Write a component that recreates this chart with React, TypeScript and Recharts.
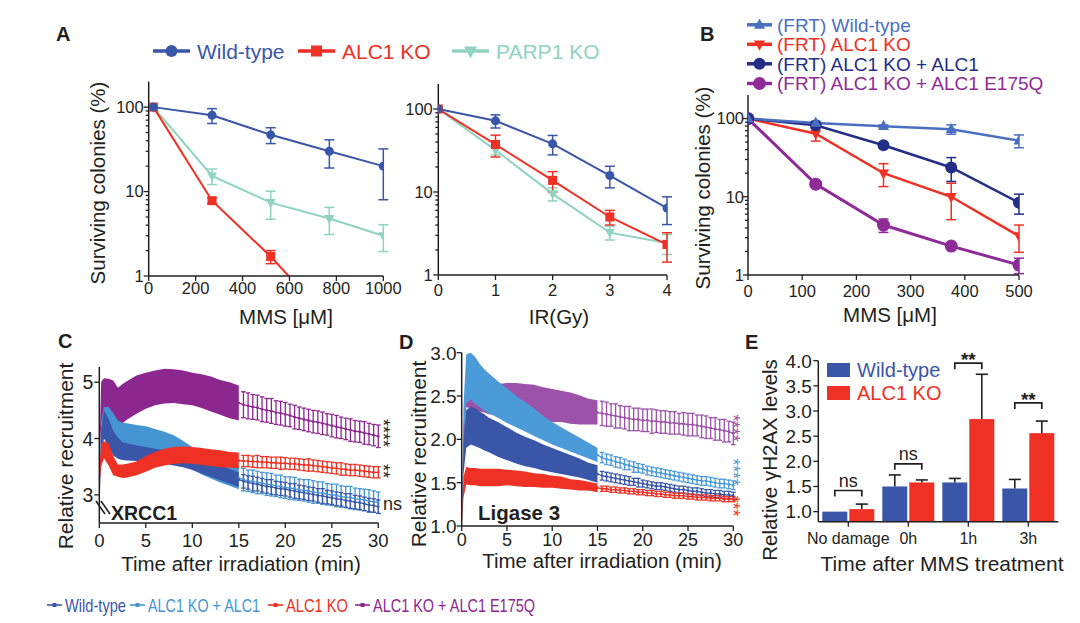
import React from 'react';
import { LineChart, Line, XAxis, YAxis, ErrorBar, ComposedChart, Area, BarChart, Bar } from 'recharts';

const W = 1080;
const H = 623;
const FONT = '"Liberation Sans", Arial, Helvetica, sans-serif';
const INK = '#231f20';
const YW = 40;
const XH = 30;

// ---------- A: MMS survival ----------
const mmsDose = [20, 270, 520, 770, 1000];
const mmsWt = [100, 80, 47, 30, 20];
const mmsWtErr = [0, 16, 10, 11, 12];
const mmsKo = [100, 7.8, 1.7, 0.3];
const mmsKoErr = [0, 0.6, 0.3, 0];
const mmsParp = [100, 15.3, 7.4, 4.8, 3.0];
const mmsParpErr = [0, 3.2, 2.7, 1.7, 1.05];

// ---------- A: IR survival ----------
const irDose = [0, 1, 2, 3, 4];
const irWt = [100, 72, 38, 15.8, 6.4];
const irWtErr = [0, 13, 10, 4.6, 2.35];
const irKo = [100, 37.4, 13.8, 5.0, 2.33];
const irKoErr = [0, 11, 3.8, 1.0, 0.9];
const irParp = [100, 32, 9.5, 3.24, 2.42];
const irParpErr = [0, 4, 1.7, 0.6, 0.65];

// ---------- B: FRT lines, MMS ----------
const frtDose = [0, 125, 250, 375, 500];
const frtWt = [100, 88, 80, 73, 52];
const frtWtErr = [0, 4, 3, 10, 9.7];
const frtKo = [100, 64, 20, 10, 3.15];
const frtKoErr = [0, 12.5, 6.5, 4.9, 1.2];
const frtRescue = [100, 82, 45.6, 23.7, 8.4];
const frtRescueErr = [0, 3, 3, 8, 2.4];
const frtE175Q = [100, 14.5, 4.35, 2.34, 1.34];
const frtE175QErr = [0, 1, 0.85, 0.2, 0.3];

// ---------- C / D: recruitment kinetics ----------
const tMin = [0, 0.2, 0.5, 1, 1.5, 2, 2.5, 3, 4, 5, 6, 7, 8, 9, 10, 11, 12, 13, 14, 15,
  15.5, 16, 16.5, 17, 17.5, 18, 18.5, 19, 19.5, 20, 20.5, 21, 21.5, 22, 22.5, 23, 23.5, 24, 24.5, 25,
  25.5, 26, 26.5, 27, 27.5, 28, 28.5, 29, 29.5, 30];

const xrccE175Q = [3.5, 4.65, 4.7, 4.7, 4.68, 4.6, 4.62, 4.68, 4.78, 4.85, 4.9, 4.93, 4.93, 4.91, 4.88, 4.84, 4.79, 4.73, 4.68, 4.63,
  4.6, 4.58, 4.56, 4.55, 4.52, 4.5, 4.49, 4.46, 4.45, 4.43, 4.41, 4.38, 4.36, 4.34, 4.32, 4.3, 4.29, 4.27, 4.25, 4.23,
  4.21, 4.19, 4.17, 4.15, 4.13, 4.12, 4.1, 4.08, 4.06, 4.04];
const xrccE175QErr = [0.2, 0.36, 0.37, 0.36, 0.35, 0.3, 0.35, 0.34, 0.34, 0.32, 0.31, 0.31, 0.3, 0.3, 0.29, 0.3, 0.31, 0.31, 0.32, 0.31,
  0.23, 0.23, 0.22, 0.22, 0.22, 0.21, 0.22, 0.21, 0.21, 0.21, 0.2, 0.21, 0.2, 0.2, 0.2, 0.2, 0.2, 0.2, 0.19, 0.2,
  0.2, 0.19, 0.19, 0.2, 0.19, 0.19, 0.2, 0.19, 0.19, 0.2];
const xrccRescue = [3.0, 4.1, 4.38, 4.38, 4.27, 4.15, 4.1, 4.08, 4.05, 4.02, 3.97, 3.92, 3.86, 3.76, 3.65, 3.56, 3.49, 3.42, 3.36, 3.3,
  3.27, 3.25, 3.24, 3.22, 3.21, 3.19, 3.18, 3.16, 3.15, 3.13, 3.12, 3.11, 3.09, 3.08, 3.07, 3.05, 3.04, 3.03, 3.01, 3.0,
  2.99, 2.97, 2.96, 2.95, 2.93, 2.92, 2.91, 2.89, 2.88, 2.86];
const xrccRescueErr = [0.1, 0.2, 0.18, 0.18, 0.18, 0.17, 0.18, 0.19, 0.19, 0.2, 0.2, 0.2, 0.2, 0.2, 0.2, 0.2, 0.2, 0.2, 0.2, 0.2,
  0.2, 0.19, 0.2, 0.2, 0.19, 0.2, 0.2, 0.19, 0.2, 0.19, 0.2, 0.2, 0.19, 0.19, 0.2, 0.2, 0.19, 0.2, 0.19, 0.19,
  0.2, 0.19, 0.19, 0.2, 0.19, 0.19, 0.19, 0.2, 0.19, 0.19];
const xrccWt = [2.75, 3.9, 4.25, 4.1, 3.92, 3.83, 3.78, 3.76, 3.74, 3.72, 3.7, 3.67, 3.64, 3.61, 3.57, 3.51, 3.45, 3.39, 3.33, 3.27,
  3.24, 3.22, 3.2, 3.19, 3.17, 3.15, 3.14, 3.12, 3.11, 3.1, 3.08, 3.07, 3.05, 3.04, 3.02, 3.01, 2.99, 2.98, 2.96, 2.95,
  2.93, 2.92, 2.9, 2.89, 2.87, 2.86, 2.84, 2.82, 2.81, 2.79];
const xrccWtErr = [0.05, 0.25, 0.25, 0.25, 0.22, 0.19, 0.16, 0.15, 0.14, 0.13, 0.12, 0.12, 0.12, 0.12, 0.13, 0.13, 0.13, 0.13, 0.13, 0.13,
  0.12, 0.12, 0.13, 0.12, 0.12, 0.12, 0.13, 0.12, 0.12, 0.12, 0.12, 0.13, 0.12, 0.12, 0.12, 0.12, 0.12, 0.13, 0.12, 0.12,
  0.12, 0.12, 0.12, 0.13, 0.12, 0.12, 0.12, 0.12, 0.12, 0.12];
const xrccKo = [3.3, 3.7, 3.8, 3.72, 3.52, 3.43, 3.42, 3.43, 3.47, 3.55, 3.62, 3.67, 3.7, 3.71, 3.7, 3.68, 3.66, 3.64, 3.62, 3.61,
  3.6, 3.6, 3.59, 3.59, 3.58, 3.58, 3.57, 3.57, 3.56, 3.56, 3.55, 3.55, 3.54, 3.53, 3.53, 3.52, 3.51, 3.5, 3.49, 3.48,
  3.47, 3.46, 3.45, 3.44, 3.44, 3.43, 3.42, 3.41, 3.4, 3.4];
const xrccKoErr = [0.15, 0.2, 0.15, 0.2, 0.17, 0.11, 0.12, 0.12, 0.12, 0.14, 0.14, 0.15, 0.15, 0.15, 0.15, 0.15, 0.15, 0.15, 0.14, 0.14,
  0.1, 0.1, 0.1, 0.11, 0.1, 0.1, 0.1, 0.1, 0.11, 0.1, 0.1, 0.1, 0.1, 0.1, 0.11, 0.1, 0.1, 0.1, 0.1, 0.1,
  0.1, 0.11, 0.1, 0.1, 0.1, 0.1, 0.1, 0.1, 0.1, 0.1];

const ligE175Q = [1.0, 2.0, 2.47, 2.48, 2.48, 2.47, 2.47, 2.46, 2.46, 2.45, 2.44, 2.43, 2.42, 2.4, 2.39, 2.38, 2.36, 2.34, 2.32, 2.31,
  2.3, 2.29, 2.28, 2.27, 2.26, 2.25, 2.24, 2.23, 2.23, 2.22, 2.22, 2.21, 2.21, 2.2, 2.2, 2.19, 2.19, 2.18, 2.18, 2.17,
  2.17, 2.16, 2.15, 2.14, 2.13, 2.12, 2.11, 2.1, 2.09, 2.07];
const ligE175QErr = [0.02, 0.15, 0.1, 0.12, 0.14, 0.15, 0.16, 0.17, 0.18, 0.2, 0.21, 0.21, 0.21, 0.2, 0.19, 0.18, 0.18, 0.17, 0.15, 0.14,
  0.14, 0.14, 0.13, 0.14, 0.13, 0.13, 0.14, 0.13, 0.13, 0.13, 0.13, 0.14, 0.13, 0.13, 0.13, 0.13, 0.13, 0.12, 0.13, 0.13,
  0.13, 0.12, 0.13, 0.13, 0.12, 0.13, 0.12, 0.13, 0.12, 0.13];
const ligRescue = [1.0, 2.2, 2.7, 2.73, 2.68, 2.62, 2.57, 2.53, 2.46, 2.39, 2.32, 2.26, 2.2, 2.13, 2.07, 2.02, 1.97, 1.92, 1.87, 1.82,
  1.79, 1.77, 1.76, 1.74, 1.73, 1.71, 1.7, 1.68, 1.67, 1.66, 1.64, 1.63, 1.62, 1.61, 1.6, 1.59, 1.58, 1.57, 1.56, 1.55,
  1.54, 1.53, 1.52, 1.52, 1.51, 1.5, 1.49, 1.49, 1.48, 1.47];
const ligRescueErr = [0.02, 0.2, 0.28, 0.27, 0.27, 0.25, 0.24, 0.23, 0.21, 0.2, 0.18, 0.17, 0.16, 0.14, 0.13, 0.12, 0.11, 0.1, 0.09, 0.08,
  0.06, 0.06, 0.06, 0.06, 0.06, 0.06, 0.05, 0.06, 0.05, 0.05, 0.05, 0.05, 0.05, 0.05, 0.05, 0.05, 0.05, 0.05, 0.05, 0.05,
  0.05, 0.05, 0.05, 0.05, 0.05, 0.05, 0.05, 0.05, 0.05, 0.05];
const ligWt = [1.0, 1.8, 2.12, 2.16, 2.14, 2.11, 2.08, 2.05, 2.0, 1.95, 1.9, 1.86, 1.83, 1.79, 1.76, 1.73, 1.7, 1.67, 1.63, 1.6,
  1.58, 1.57, 1.56, 1.55, 1.54, 1.53, 1.52, 1.51, 1.5, 1.49, 1.48, 1.47, 1.46, 1.46, 1.45, 1.44, 1.43, 1.42, 1.42, 1.41,
  1.4, 1.4, 1.39, 1.38, 1.38, 1.37, 1.37, 1.36, 1.36, 1.35];
const ligWtErr = [0.02, 0.2, 0.22, 0.22, 0.22, 0.21, 0.21, 0.2, 0.2, 0.19, 0.18, 0.17, 0.16, 0.15, 0.14, 0.13, 0.12, 0.11, 0.1, 0.1,
  0.05, 0.05, 0.05, 0.05, 0.05, 0.05, 0.05, 0.04, 0.05, 0.04, 0.04, 0.04, 0.04, 0.04, 0.04, 0.04, 0.04, 0.04, 0.04, 0.04,
  0.04, 0.04, 0.04, 0.04, 0.04, 0.04, 0.04, 0.04, 0.04, 0.04];
const ligKo = [1.0, 1.45, 1.58, 1.57, 1.57, 1.56, 1.56, 1.56, 1.56, 1.56, 1.55, 1.54, 1.53, 1.52, 1.51, 1.5, 1.48, 1.47, 1.46, 1.44,
  1.43, 1.43, 1.42, 1.42, 1.41, 1.41, 1.4, 1.4, 1.39, 1.39, 1.38, 1.38, 1.37, 1.37, 1.36, 1.36, 1.35, 1.35, 1.35, 1.34,
  1.34, 1.33, 1.33, 1.33, 1.32, 1.32, 1.32, 1.31, 1.31, 1.31];
const ligKoErr = [0.02, 0.12, 0.1, 0.1, 0.1, 0.1, 0.1, 0.1, 0.1, 0.09, 0.09, 0.09, 0.08, 0.08, 0.07, 0.07, 0.06, 0.06, 0.05, 0.05,
  0.03, 0.03, 0.03, 0.03, 0.03, 0.03, 0.03, 0.03, 0.03, 0.03, 0.03, 0.03, 0.03, 0.03, 0.03, 0.03, 0.03, 0.03, 0.03, 0.03,
  0.03, 0.03, 0.03, 0.03, 0.03, 0.03, 0.03, 0.03, 0.03, 0.03];

// ---------- E: gH2AX ----------
const mmsTimes = ['No damage', '0h', '1h', '3h'];
const h2axWt = [1.0, 1.5, 1.58, 1.46];
const h2axWtErr = [0, 0.23, 0.08, 0.18];
const h2axKo = [1.05, 1.58, 2.84, 2.56];
const h2axKoErr = [0.1, 0.05, 0.89, 0.24];
const sigLevel = [1.42, 1.95, 3.95, 3.16];
const sigLabel = ['ns', 'ns', '**', '**'];

// ---------- colours ----------
const BLUE = '#3a56a8';
const RED = '#ee3124';
const TEAL = '#8fd3c0';
const LBLUE = '#4595d2';
const PURPLE = '#8d2790';
const B_WT = '#4a6fc0';
const B_NAVY = '#232f86';
const B_PURPLE = '#8e2b97';
const D_PURPLE = '#9b52a8';
const D_LBLUE = '#4a9bd8';

const LOG_TICKS = [1, 2, 3, 4, 5, 6, 7, 8, 9, 10, 20, 30, 40, 50, 60, 70, 80, 90, 100];
const E_DOMAIN = [0.8, 4];
const BAR_GAP = 2;
const AXIS = { stroke: INK, strokeWidth: 1.5 };

type Frame = { l: number; t: number; r: number; b: number };
const marginOf = (f: Frame) => ({ left: f.l - YW, top: f.t, right: W - f.r, bottom: H - f.b - XH });
const abs: React.CSSProperties = { position: 'absolute', left: 0, top: 0 };

function LeftTick({ x, y, payload, fs, gap, minor, fmt }: any) {
  const v = payload.value;
  const isMinor = minor ? minor(v) : false;
  return (
    <g>
      <line x1={x - (isMinor ? 3 : 5)} x2={x} y1={y} y2={y} stroke={INK} strokeWidth={1.3} />
      {!isMinor && (
        <text x={x - gap} y={y + 0.36 * fs} textAnchor="end" fontSize={fs} fontFamily={FONT} fill={INK}>
          {fmt ? fmt(v) : v}
        </text>
      )}
    </g>
  );
}

function BottomTick({ x, y, payload, fs, off }: any) {
  return (
    <g>
      <line x1={x} x2={x} y1={y} y2={y + 5} stroke={INK} strokeWidth={1.3} />
      <text x={x} y={y + off + 0.36 * fs} textAnchor="middle" fontSize={fs} fontFamily={FONT} fill={INK}>
        {payload.value}
      </text>
    </g>
  );
}

function Marker({ cx, cy, shape, size, color }: any) {
  if (cx == null || cy == null || isNaN(cx) || isNaN(cy)) return <g />;
  if (shape === 'circle') return <circle cx={cx} cy={cy} r={size} fill={color} />;
  if (shape === 'square') return <rect x={cx - size} y={cy - size} width={size * 2} height={size * 2} fill={color} />;
  if (shape === 'up')
    return <polygon points={`${cx},${cy - size * 1.15} ${cx - size},${cy + size * 0.7} ${cx + size},${cy + size * 0.7}`} fill={color} />;
  return <polygon points={`${cx},${cy + size * 1.15} ${cx - size},${cy - size * 0.7} ${cx + size},${cy - size * 0.7}`} fill={color} />;
}

const dotOf = (shape: string, size: number, color: string) => (p: any) =>
  <Marker key={`m${p.index}`} cx={p.cx} cy={p.cy} shape={shape} size={size} color={color} />;

const isMinorLog = (v: number) => ![1, 10, 100].includes(v);

type SurvSeries = { key: string; vals: number[]; errs: number[]; color: string; shape: string; size: number; w: number };

function SurvivalPanel({ frame, doses, series, xDomain, xTicks, xOff, yGap }: any) {
  const rows = doses.map((x: number, i: number) => {
    const r: any = { x };
    series.forEach((s: SurvSeries) => {
      r[s.key] = s.vals[i];
      r[s.key + 'Err'] = s.errs[i];
    });
    return r;
  });
  return (
    <div style={abs}>
      <LineChart width={W} height={H} data={rows} margin={marginOf(frame)}>
        <XAxis type="number" dataKey="x" domain={xDomain} ticks={xTicks} interval={0} allowDataOverflow height={XH}
          axisLine={AXIS} tickLine={false} tickSize={0} tickMargin={0}
          tick={(p: any) => <BottomTick {...p} fs={16.5} off={xOff} />} />
        <YAxis type="number" scale="log" domain={[1, 200]} allowDataOverflow ticks={LOG_TICKS} interval={0} width={YW}
          axisLine={AXIS} tickLine={false} tickSize={0} tickMargin={0}
          tick={(p: any) => <LeftTick {...p} fs={16.5} gap={yGap} minor={isMinorLog} />} />
        {series.map((s: SurvSeries) => (
          <Line key={s.key} dataKey={s.key} type="linear" stroke={s.color} strokeWidth={s.w}
            dot={dotOf(s.shape, s.size, s.color)} activeDot={false} isAnimationActive={false}>
            <ErrorBar dataKey={s.key + 'Err'} width={5} stroke={s.color} strokeWidth={1.5} direction="y" />
          </Line>
        ))}
      </LineChart>
    </div>
  );
}

type KinSeries = { key: string; mean: number[]; err: number[]; color: string };
const BAND_END = 15;

// dense early part is drawn as a filled mean±SEM band, the sparser late part as line + error bars
function KineticsPanel({ frame, domain, ticks, series, fmt, yGap, xOff, xFs, yFs }: any) {
  const rows = tMin.map((t, i) => {
    const r: any = { t };
    series.forEach((s: KinSeries) => {
      if (t <= BAND_END) r[s.key + 'Band'] = [s.mean[i] - s.err[i], s.mean[i] + s.err[i]];
      if (t >= BAND_END) r[s.key] = s.mean[i];
      if (t > BAND_END) r[s.key + 'Err'] = s.err[i];
    });
    return r;
  });
  return (
    <div style={abs}>
      <ComposedChart width={W} height={H} data={rows} margin={marginOf(frame)}>
        <XAxis type="number" dataKey="t" domain={[0, 30]} ticks={[0, 5, 10, 15, 20, 25, 30]} interval={0} height={XH}
          axisLine={AXIS} tickLine={false} tickSize={0} tickMargin={0}
          tick={(p: any) => <BottomTick {...p} fs={xFs} off={xOff} />} />
        <YAxis type="number" domain={domain} allowDataOverflow ticks={ticks} interval={0} width={YW}
          axisLine={AXIS} tickLine={false} tickSize={0} tickMargin={0}
          tick={(p: any) => <LeftTick {...p} fs={yFs} gap={yGap} fmt={fmt} />} />
        {series.flatMap((s: KinSeries) => [
          <Area key={s.key + 'b'} dataKey={s.key + 'Band'} type="linear" stroke="none" fill={s.color}
            fillOpacity={1} activeDot={false} isAnimationActive={false} />,
          <Line key={s.key} dataKey={s.key} type="linear" stroke={s.color} strokeWidth={1.3}
            dot={{ r: 1.3, fill: s.color, stroke: 'none' }} activeDot={false} isAnimationActive={false}>
            <ErrorBar dataKey={s.key + 'Err'} width={2.3} stroke={s.color} strokeWidth={1.3} direction="y" />
          </Line>,
        ])}
      </ComposedChart>
    </div>
  );
}

function EBar({ x, y, width, height, fill, payload, valKey, errKey, bracket }: any) {
  const v = payload[valKey];
  const k = height / (v - E_DOMAIN[0]);
  const cx = x + width / 2;
  const err = payload[errKey];
  const top = y - err * k;
  let br = null;
  if (bracket) {
    const by = y - (payload.sig - v) * k;
    const x1 = x - BAR_GAP - width / 2;
    const star = payload.sigLabel.includes('*');
    br = (
      <g>
        <polyline points={`${x1},${by + 6} ${x1},${by} ${cx},${by} ${cx},${by + 6}`} fill="none" stroke={INK} strokeWidth={1.7} />
        <text x={(x1 + cx) / 2} y={star ? by + 3 : by - 4} textAnchor="middle" fontSize={star ? 19 : 18}
          fontWeight={star ? 'bold' : 'normal'} fontFamily={FONT} fill={INK}>{payload.sigLabel}</text>
      </g>
    );
  }
  return (
    <g>
      <rect x={x} y={y} width={width} height={height} fill={fill} />
      {err > 0 && (
        <g>
          <line x1={cx} x2={cx} y1={y} y2={top} stroke={INK} strokeWidth={1.6} />
          <line x1={cx - 6} x2={cx + 6} y1={top} y2={top} stroke={INK} strokeWidth={1.6} />
        </g>
      )}
      {br}
    </g>
  );
}

function PanelE() {
  const rows = mmsTimes.map((cat, i) => ({
    cat, wt: h2axWt[i], wtErr: h2axWtErr[i], ko: h2axKo[i], koErr: h2axKoErr[i], sig: sigLevel[i], sigLabel: sigLabel[i],
  }));
  const frame = { l: 818.3, t: 360.7, r: 1058.3, b: 521.7 };
  return (
    <div style={abs}>
      <BarChart width={W} height={H} data={rows} margin={marginOf(frame)} barSize={25} barGap={BAR_GAP}>
        <XAxis dataKey="cat" type="category" interval={0} height={XH} axisLine={AXIS} tickLine={false} tickSize={0} tickMargin={0}
          tick={(p: any) => <BottomTick {...p} fs={16} off={16.5} />} />
        <YAxis type="number" domain={E_DOMAIN} ticks={[1, 1.5, 2, 2.5, 3, 3.5, 4]} interval={0} width={YW}
          axisLine={AXIS} tickLine={false} tickSize={0} tickMargin={0}
          tick={(p: any) => <LeftTick {...p} fs={19} gap={6.5} fmt={(v: number) => v.toFixed(1)} />} />
        <Bar dataKey="wt" fill={BLUE} isAnimationActive={false}
          shape={(p: any) => <EBar {...p} valKey="wt" errKey="wtErr" />} />
        <Bar dataKey="ko" fill={RED} isAnimationActive={false}
          shape={(p: any) => <EBar {...p} valKey="ko" errKey="koErr" bracket />} />
      </BarChart>
    </div>
  );
}

const T = (props: any) => <text fontFamily={FONT} fill={INK} {...props} />;
const VTitle = ({ x, y, children, fs = 20.5 }: any) => (
  <T transform={`translate(${x},${y}) rotate(-90)`} x={0} y={0.36 * fs} textAnchor="middle" fontSize={fs}>{children}</T>
);
const HTitle = ({ x, y, children, fs = 20.5 }: any) => (
  <T x={x} y={y + 0.36 * fs} textAnchor="middle" fontSize={fs}>{children}</T>
);
const Stars = ({ x, y, fs, color, children }: any) => (
  <T transform={`translate(${x - 0.58 * fs},${y}) rotate(90)`} x={0} y={0} textAnchor="middle" fontSize={fs} fill={color}>{children}</T>
);

function Overlay() {
  const legA = [
    { x: 153, color: BLUE, shape: 'circle', size: 6, label: 'Wild-type' },
    { x: 298, color: RED, shape: 'square', size: 5.5, label: 'ALC1 KO' },
    { x: 452, color: TEAL, shape: 'down', size: 6.5, label: 'PARP1 KO' },
  ];
  const legB = [
    { y: 24.8, color: B_WT, shape: 'up', size: 5.5, label: '(FRT) Wild-type' },
    { y: 44.3, color: RED, shape: 'down', size: 5.5, label: '(FRT) ALC1 KO' },
    { y: 63.8, color: B_NAVY, shape: 'circle', size: 6, label: '(FRT) ALC1 KO + ALC1' },
    { y: 83.5, color: B_PURPLE, shape: 'circle', size: 6.5, label: '(FRT) ALC1 KO + ALC1 E175Q' },
  ];
  const legBottom = [
    { x: 47, color: BLUE, label: 'Wild-type', len: 61 },
    { x: 130, color: LBLUE, label: 'ALC1 KO + ALC1', len: 112 },
    { x: 268, color: RED, label: 'ALC1 KO', len: 62 },
    { x: 355, color: PURPLE, label: 'ALC1 KO + ALC1 E175Q', len: 162 },
  ];
  return (
    <svg width={W} height={H} style={{ ...abs, pointerEvents: 'none' }}>
      {/* panel letters */}
      <T x={56} y={41} fontSize={20} fontWeight="bold">A</T>
      <T x={700} y={41} fontSize={20} fontWeight="bold">B</T>
      <T x={58} y={348} fontSize={20} fontWeight="bold">C</T>
      <T x={399} y={349} fontSize={20} fontWeight="bold">D</T>
      <T x={745} y={349} fontSize={20} fontWeight="bold">E</T>

      {/* legend A */}
      {legA.map((d) => (
        <g key={d.label}>
          <line x1={d.x} x2={d.x + 37} y1={51} y2={51} stroke={d.color} strokeWidth={3.5} />
          <Marker cx={d.x + 18.5} cy={51} shape={d.shape} size={d.size} color={d.color} />
          <T x={d.x + 44} y={58.5} fontSize={21} fill={d.color}>{d.label}</T>
        </g>
      ))}

      {/* legend B */}
      {legB.map((d) => (
        <g key={d.label}>
          <line x1={747} x2={772} y1={d.y} y2={d.y} stroke={d.color} strokeWidth={3.5} />
          <Marker cx={759.5} cy={d.y} shape={d.shape} size={d.size} color={d.color} />
          <T x={777} y={d.y + 6.8} fontSize={19} fill={d.color}>{d.label}</T>
        </g>
      ))}

      {/* axis titles */}
      <VTitle x={98} y={183}>Surviving colonies (%)</VTitle>
      <HTitle x={286} y={317}>MMS [μM]</HTitle>
      <HTitle x={559} y={317}>IR(Gy)</HTitle>
      <VTitle x={703} y={188}>Surviving colonies (%)</VTitle>
      <HTitle x={890} y={315}>MMS [μM]</HTitle>
      <VTitle x={65} y={456} fs={21}>Relative recruitment</VTitle>
      <HTitle x={241} y={564}>Time after irradiation (min)</HTitle>
      <VTitle x={418} y={454} fs={21}>Relative recruitment</VTitle>
      <HTitle x={602} y={561}>Time after irradiation (min)</HTitle>
      <VTitle x={770} y={460}>Relative γH2AX levels</VTitle>
      <HTitle x={942} y={563} fs={21}>Time after MMS treatment</HTitle>

      {/* C annotations */}
      <line x1={96} y1={501} x2={105} y2={514} stroke={INK} strokeWidth={1.6} />
      <line x1={101} y1={501} x2={110} y2={514} stroke={INK} strokeWidth={1.6} />
      <T x={111} y={520} fontSize={19.5} fontWeight="bold">XRCC1</T>
      <Stars x={387} y={433} fs={18} color={INK}>****</Stars>
      <Stars x={387} y={471} fs={18} color={INK}>**</Stars>
      <T x={383} y={510} fontSize={18}>ns</T>

      {/* D annotations */}
      <T x={478} y={520} fontSize={20.5} fontWeight="bold">Ligase 3</T>
      <Stars x={737} y={428} fs={17.5} color={D_PURPLE}>****</Stars>
      <Stars x={737} y={472} fs={17.5} color={D_LBLUE}>****</Stars>
      <Stars x={737} y={506} fs={17.5} color={RED}>***</Stars>

      {/* E legend */}
      <rect x={827} y={363} width={23} height={14} fill={BLUE} />
      <T x={857} y={377} fontSize={20} fill={BLUE}>Wild-type</T>
      <rect x={827} y={386} width={23} height={14} fill={RED} />
      <T x={857} y={400} fontSize={20} fill={RED}>ALC1 KO</T>

      {/* bottom legend (condensed type, as in the figure) */}
      {legBottom.map((d) => (
        <g key={d.label}>
          <line x1={d.x} x2={d.x + 15} y1={605} y2={605} stroke={d.color} strokeWidth={1.6} />
          <rect x={d.x + 5.5} y={603} width={4} height={4} fill={d.color} />
          <g transform={`translate(${d.x + 18},611.5) scale(1,1.25)`}>
            <T x={0} y={0} fontSize={15} fill={d.color} textLength={d.len} lengthAdjust="spacingAndGlyphs">{d.label}</T>
          </g>
        </g>
      ))}
    </svg>
  );
}

export default function App() {
  const seriesA1: SurvSeries[] = [
    { key: 'parp', vals: mmsParp, errs: mmsParpErr, color: TEAL, shape: 'down', size: 5, w: 2 },
    { key: 'ko', vals: mmsKo, errs: mmsKoErr, color: RED, shape: 'square', size: 4.5, w: 2 },
    { key: 'wt', vals: mmsWt, errs: mmsWtErr, color: BLUE, shape: 'circle', size: 4.5, w: 2 },
  ];
  const seriesA2: SurvSeries[] = [
    { key: 'parp', vals: irParp, errs: irParpErr, color: TEAL, shape: 'down', size: 5, w: 2 },
    { key: 'ko', vals: irKo, errs: irKoErr, color: RED, shape: 'square', size: 4.5, w: 2 },
    { key: 'wt', vals: irWt, errs: irWtErr, color: BLUE, shape: 'circle', size: 4.5, w: 2 },
  ];
  const seriesB: SurvSeries[] = [
    { key: 'e175q', vals: frtE175Q, errs: frtE175QErr, color: B_PURPLE, shape: 'circle', size: 6.5, w: 3 },
    { key: 'ko', vals: frtKo, errs: frtKoErr, color: RED, shape: 'down', size: 5.5, w: 2.5 },
    { key: 'rescue', vals: frtRescue, errs: frtRescueErr, color: B_NAVY, shape: 'circle', size: 6, w: 2.5 },
    { key: 'wt', vals: frtWt, errs: frtWtErr, color: B_WT, shape: 'up', size: 5.5, w: 2.5 },
  ];
  const seriesC: KinSeries[] = [
    { key: 'e175q', mean: xrccE175Q, err: xrccE175QErr, color: PURPLE },
    { key: 'rescue', mean: xrccRescue, err: xrccRescueErr, color: LBLUE },
    { key: 'wt', mean: xrccWt, err: xrccWtErr, color: BLUE },
    { key: 'ko', mean: xrccKo, err: xrccKoErr, color: RED },
  ];
  const seriesD: KinSeries[] = [
    { key: 'e175q', mean: ligE175Q, err: ligE175QErr, color: D_PURPLE },
    { key: 'rescue', mean: ligRescue, err: ligRescueErr, color: D_LBLUE },
    { key: 'wt', mean: ligWt, err: ligWtErr, color: BLUE },
    { key: 'ko', mean: ligKo, err: ligKoErr, color: RED },
  ];
  return (
    <div style={{ ...abs, width: W, height: H, background: '#fff', overflow: 'hidden' }}>
      <SurvivalPanel frame={{ l: 148.7, t: 81.7, r: 383.3, b: 276 }} doses={mmsDose} series={seriesA1}
        xDomain={[0, 1000]} xTicks={[0, 200, 400, 600, 800, 1000]} xOff={12} yGap={5} />
      <SurvivalPanel frame={{ l: 438.3, t: 84, r: 667, b: 275 }} doses={irDose} series={seriesA2}
        xDomain={[0, 4]} xTicks={[0, 1, 2, 3, 4]} xOff={15} yGap={5.5} />
      <SurvivalPanel frame={{ l: 748, t: 95, r: 1019, b: 275 }} doses={frtDose} series={seriesB}
        xDomain={[0, 500]} xTicks={[0, 100, 200, 300, 400, 500]} xOff={16} yGap={4} />
      <KineticsPanel frame={{ l: 99.3, t: 367, r: 378.3, b: 523 }} domain={[2.5, 5.27]} ticks={[3, 4, 5]}
        series={seriesC} yGap={6} xOff={17.5} xFs={18.5} yFs={19.5} />
      <KineticsPanel frame={{ l: 461.7, t: 352.7, r: 733.3, b: 526 }} domain={[1, 3]} ticks={[1, 1.5, 2, 2.5, 3]}
        series={seriesD} yGap={5} xOff={13.5} xFs={18} yFs={19} fmt={(v: number) => v.toFixed(1)} />
      <PanelE />
      <Overlay />
    </div>
  );
}
